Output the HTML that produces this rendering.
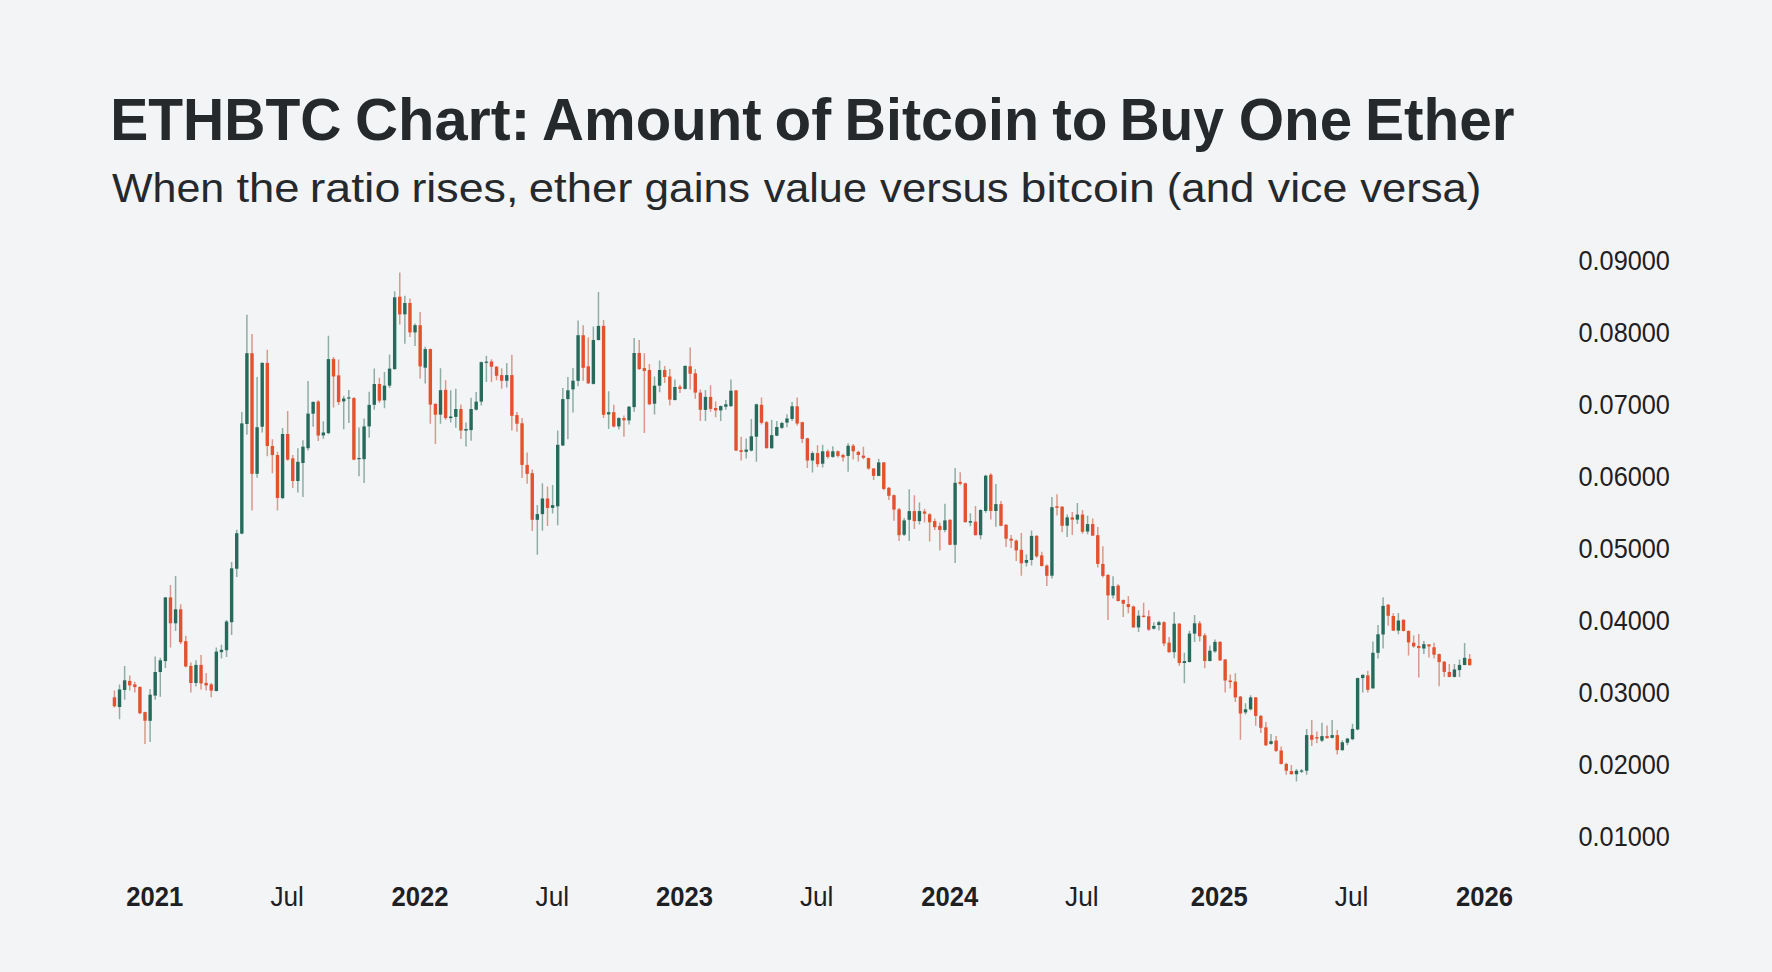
<!DOCTYPE html>
<html><head><meta charset="utf-8"><style>
html,body{margin:0;padding:0;background:#f3f4f6;}
body{width:1772px;height:972px;overflow:hidden;}
svg{display:block;}
text{font-family:"Liberation Sans",sans-serif;}
</style></head><body>
<svg width="1772" height="972" viewBox="0 0 1772 972">
<rect width="1772" height="972" fill="#f3f4f6"/>
<g font-size="58.5" font-weight="bold" fill="#25292c"><text x="110.3" y="140.3" textLength="231.1" lengthAdjust="spacingAndGlyphs">ETHBTC</text><text x="354.9" y="140.3" textLength="175.6" lengthAdjust="spacingAndGlyphs">Chart:</text><text x="542.1" y="140.3" textLength="219.5" lengthAdjust="spacingAndGlyphs">Amount</text><text x="774.6" y="140.3" textLength="56.7" lengthAdjust="spacingAndGlyphs">of</text><text x="844.5" y="140.3" textLength="194.5" lengthAdjust="spacingAndGlyphs">Bitcoin</text><text x="1052.2" y="140.3" textLength="55.2" lengthAdjust="spacingAndGlyphs">to</text><text x="1119.8" y="140.3" textLength="104.1" lengthAdjust="spacingAndGlyphs">Buy</text><text x="1238.7" y="140.3" textLength="113.4" lengthAdjust="spacingAndGlyphs">One</text><text x="1364.9" y="140.3" textLength="149.7" lengthAdjust="spacingAndGlyphs">Ether</text></g>
<g font-size="41" fill="#25292c"><text x="112.0" y="202.2" textLength="112.2" lengthAdjust="spacingAndGlyphs">When</text><text x="236.4" y="202.2" textLength="63.2" lengthAdjust="spacingAndGlyphs">the</text><text x="309.7" y="202.2" textLength="90.7" lengthAdjust="spacingAndGlyphs">ratio</text><text x="411.4" y="202.2" textLength="107.0" lengthAdjust="spacingAndGlyphs">rises,</text><text x="528.8" y="202.2" textLength="103.7" lengthAdjust="spacingAndGlyphs">ether</text><text x="644.6" y="202.2" textLength="105.4" lengthAdjust="spacingAndGlyphs">gains</text><text x="763.7" y="202.2" textLength="103.2" lengthAdjust="spacingAndGlyphs">value</text><text x="880.1" y="202.2" textLength="128.6" lengthAdjust="spacingAndGlyphs">versus</text><text x="1020.6" y="202.2" textLength="134.3" lengthAdjust="spacingAndGlyphs">bitcoin</text><text x="1166.8" y="202.2" textLength="87.6" lengthAdjust="spacingAndGlyphs">(and</text><text x="1267.8" y="202.2" textLength="79.6" lengthAdjust="spacingAndGlyphs">vice</text><text x="1360.2" y="202.2" textLength="121.2" lengthAdjust="spacingAndGlyphs">versa)</text></g>
<defs><filter id="bl" x="-5%" y="-5%" width="110%" height="110%"><feGaussianBlur stdDeviation="0.4"/></filter></defs><g filter="url(#bl)"><path d="M119.53 684.4V719.3M124.63 665.9V699.8M150.10 689.1V741.9M155.20 656.6V699.8M160.29 657.7V696.7M165.39 597.0V667.9M175.58 576.0V630.9M195.96 660.3V686.4M216.34 647.5V691.6M221.44 644.8V658.4M226.53 619.9V657.0M231.62 561.9V635.0M236.72 529.8V576.9M241.81 412.0V534.3M246.91 314.7V434.7M257.10 377.0V477.7M262.19 362.2V432.4M282.57 427.9V499.2M297.86 448.3V492.4M302.95 440.3V496.9M308.05 381.0V450.5M313.14 401.4V426.8M323.33 421.2V438.8M328.43 335.8V434.3M343.71 395.8V429.3M348.81 390.1V423.0M359.00 427.5V476.2M364.09 418.4V483.0M369.19 391.7V437.7M374.28 368.6V409.8M384.47 372.0V408.3M389.57 354.6V387.9M394.66 291.2V369.8M404.86 295.8V343.7M415.04 323.4V346.0M425.23 346.8V383.5M440.52 368.3V423.7M450.71 390.2V422.6M455.80 388.7V427.8M465.99 422.6V446.4M471.09 397.7V440.7M476.18 392.1V410.6M481.28 361.5V405.6M486.38 355.8V381.9M506.75 363.1V387.5M537.33 505.1V554.8M542.42 483.3V530.7M552.61 485.0V513.4M557.70 430.6V525.2M562.80 388.0V445.9M567.89 376.9V439.3M572.99 368.1V412.6M578.09 320.4V386.3M593.37 326.5V384.4M598.46 291.9V340.4M608.65 391.3V428.9M618.85 417.2V429.6M629.03 406.1V424.6M634.13 338.1V411.7M654.51 376.5V414.4M659.61 360.4V392.2M674.89 379.6V400.6M685.08 365.4V389.4M705.46 390.0V420.9M720.74 405.6V420.9M725.84 400.0V409.8M730.93 379.6V407.0M746.22 438.5V458.5M751.32 419.1V451.5M756.41 403.7V461.7M771.69 420.0V448.7M776.79 420.9V436.3M781.88 421.7V429.1M786.98 414.3V427.2M792.08 401.9V421.1M812.45 451.3V472.6M822.64 444.8V467.4M832.84 446.3V457.8M848.12 443.3V471.7M878.69 458.7V476.3M904.16 518.0V535.9M909.26 489.3V541.1M919.45 502.6V524.4M944.92 503.7V532.2M955.12 468.0V563.0M970.40 513.3V526.3M980.59 509.3V539.3M985.68 474.8V512.8M995.88 484.1V526.7M1026.44 554.4V566.5M1031.54 530.4V565.6M1051.92 497.0V578.5M1067.20 514.6V536.9M1077.39 503.0V523.9M1087.59 515.7V534.3M1113.06 576.3V598.5M1138.53 610.2V631.9M1153.82 622.2V629.6M1158.91 620.7V630.6M1174.20 612.0V658.3M1184.39 652.8V683.3M1189.48 630.7V662.4M1194.58 615.1V641.9M1209.87 645.6V661.6M1214.96 639.4V652.8M1245.53 703.2V714.5M1250.62 695.3V710.4M1271.00 734.0V744.7M1296.48 769.0V781.4M1301.58 769.0V773.1M1306.67 728.9V774.8M1321.95 722.7V741.9M1332.14 720.0V738.6M1342.34 740.2V750.9M1347.43 737.7V745.3M1352.53 723.7V740.2M1357.62 677.4V730.3M1362.71 674.4V692.5M1372.90 641.5V688.6M1378.00 625.1V658.4M1383.10 597.3V648.5M1398.38 613.1V634.3M1423.86 641.1V654.1M1454.42 664.0V677.5M1459.52 659.6V676.9M1464.62 643.0V665.2" stroke="#8fada5" stroke-width="1.5" stroke-opacity="1" fill="none"/><path d="M114.44 690.6V707.6M129.72 675.5V690.6M134.82 681.7V692.6M139.91 686.4V714.2M145.01 711.7V744.0M170.48 585.1V647.4M180.67 604.2V644.3M185.77 635.7V667.3M190.86 662.4V692.6M201.05 655.0V689.5M206.15 673.1V690.6M211.24 682.9V697.3M252.00 334.0V510.5M267.29 349.8V456.2M272.38 439.2V473.2M277.48 451.7V510.5M287.67 410.9V460.7M292.76 455.0V487.9M318.24 400.3V441.1M333.52 356.9V407.6M338.62 359.6V404.9M353.90 396.9V460.3M379.38 377.7V403.1M399.76 272.4V324.5M409.95 298.5V337.0M420.14 312.1V378.8M430.33 348.6V423.7M435.42 403.4V444.1M445.61 380.3V419.7M460.90 404.5V439.1M491.47 359.2V381.9M496.56 366.0V380.3M501.66 368.3V388.7M511.85 354.7V430.5M516.94 412.0V431.7M522.04 418.1V478.1M527.13 452.6V483.8M532.23 469.6V531.1M547.51 486.6V525.9M583.18 325.2V380.7M588.27 337.6V383.9M603.56 320.0V418.1M613.75 404.8V427.4M623.94 415.4V436.7M639.22 340.0V370.0M644.32 353.3V433.0M649.41 364.1V405.2M664.70 365.9V383.0M669.80 369.1V405.6M679.98 384.8V393.1M690.17 347.4V389.4M695.27 369.1V398.7M700.37 389.4V420.9M710.56 385.2V411.7M715.65 401.5V417.2M736.03 390.0V451.1M741.12 436.7V460.4M761.50 397.4V424.6M766.60 420.9V448.7M797.17 397.6V425.4M802.26 421.7V443.0M807.36 437.8V468.0M817.55 445.2V467.0M827.74 449.4V458.7M837.93 450.4V457.4M843.02 453.7V461.5M853.21 443.9V459.6M858.31 450.7V461.5M863.40 446.7V459.3M868.50 457.4V469.8M873.60 468.0V480.0M883.78 461.9V490.2M888.88 487.0V500.0M893.97 494.4V520.7M899.07 508.1V541.1M914.36 495.2V529.1M924.54 508.7V522.6M929.64 513.3V541.5M934.73 518.5V530.0M939.83 522.6V550.4M950.02 519.3V545.2M960.21 472.2V485.2M965.30 482.8V522.6M975.49 505.9V535.6M990.78 473.3V519.6M1000.97 501.1V526.3M1006.07 523.9V547.0M1011.16 535.0V548.0M1016.25 539.6V560.9M1021.35 533.1V575.7M1036.63 535.0V557.8M1041.73 551.7V566.5M1046.83 564.6V585.9M1057.01 494.3V515.6M1062.11 505.9V532.2M1072.30 511.9V535.0M1082.49 510.0V533.7M1092.68 518.5V536.1M1097.77 526.9V567.6M1102.87 546.3V577.4M1107.96 574.1V620.0M1118.15 584.3V601.5M1123.25 599.6V617.0M1128.35 595.9V613.3M1133.44 605.6V627.8M1143.63 602.8V617.6M1148.72 610.2V631.1M1164.01 621.3V646.3M1169.11 637.0V652.8M1179.30 623.1V665.7M1199.67 620.9V641.4M1204.77 633.2V668.2M1220.06 641.0V661.0M1225.15 658.9V692.5M1230.24 674.4V688.4M1235.34 673.3V702.1M1240.43 696.0V739.8M1255.72 697.0V725.8M1260.82 715.1V733.0M1265.91 722.1V746.0M1276.10 736.1V752.1M1281.19 746.4V764.5M1286.29 762.8V774.8M1291.38 764.9V774.8M1311.77 720.0V746.0M1316.86 731.6V743.3M1327.05 725.4V738.6M1337.24 729.9V754.6M1367.81 670.7V692.5M1388.19 604.1V625.7M1393.29 613.3V630.9M1403.47 619.3V631.6M1408.57 630.6V655.6M1413.66 635.6V647.7M1418.76 634.1V677.5M1428.95 644.2V657.5M1434.05 642.7V658.4M1439.14 653.5V686.2M1444.23 660.9V676.9M1449.33 664.0V677.3M1469.71 654.1V665.4" stroke="#d9998c" stroke-width="1.5" stroke-opacity="1" fill="none"/><g fill="#256b5c"><rect x="117.83" y="689.5" width="3.4" height="17.5"/><rect x="122.93" y="680.3" width="3.4" height="9.7"/><rect x="148.41" y="694.7" width="3.4" height="26.1"/><rect x="153.50" y="672.0" width="3.4" height="23.6"/><rect x="158.59" y="660.3" width="3.4" height="11.7"/><rect x="163.69" y="597.4" width="3.4" height="63.7"/><rect x="173.88" y="609.3" width="3.4" height="14.0"/><rect x="194.26" y="664.9" width="3.4" height="18.1"/><rect x="214.64" y="651.6" width="3.4" height="39.4"/><rect x="219.74" y="649.8" width="3.4" height="2.3"/><rect x="224.83" y="621.5" width="3.4" height="28.7"/><rect x="229.93" y="568.3" width="3.4" height="53.9"/><rect x="235.02" y="533.2" width="3.4" height="35.5"/><rect x="240.12" y="423.4" width="3.4" height="110.2"/><rect x="245.21" y="353.2" width="3.4" height="70.8"/><rect x="255.40" y="427.2" width="3.4" height="46.6"/><rect x="260.50" y="362.9" width="3.4" height="63.8"/><rect x="280.88" y="434.0" width="3.4" height="64.1"/><rect x="296.16" y="461.8" width="3.4" height="19.2"/><rect x="301.25" y="446.7" width="3.4" height="16.3"/><rect x="306.35" y="413.6" width="3.4" height="34.6"/><rect x="311.44" y="401.9" width="3.4" height="11.8"/><rect x="321.63" y="432.5" width="3.4" height="2.9"/><rect x="326.73" y="359.1" width="3.4" height="74.0"/><rect x="342.01" y="398.5" width="3.4" height="2.9"/><rect x="347.11" y="397.4" width="3.4" height="1.2"/><rect x="357.30" y="458.0" width="3.4" height="1.2"/><rect x="362.39" y="426.4" width="3.4" height="32.8"/><rect x="367.49" y="404.9" width="3.4" height="21.5"/><rect x="372.58" y="384.0" width="3.4" height="20.8"/><rect x="382.77" y="385.6" width="3.4" height="14.7"/><rect x="387.87" y="368.6" width="3.4" height="17.0"/><rect x="392.96" y="297.3" width="3.4" height="71.8"/><rect x="403.16" y="303.0" width="3.4" height="11.3"/><rect x="413.34" y="325.2" width="3.4" height="7.2"/><rect x="423.53" y="349.1" width="3.4" height="18.6"/><rect x="438.82" y="390.2" width="3.4" height="24.4"/><rect x="449.01" y="416.5" width="3.4" height="1.6"/><rect x="454.10" y="409.0" width="3.4" height="7.9"/><rect x="464.29" y="429.0" width="3.4" height="1.6"/><rect x="469.39" y="409.0" width="3.4" height="21.1"/><rect x="474.48" y="401.6" width="3.4" height="8.1"/><rect x="479.58" y="362.2" width="3.4" height="39.4"/><rect x="484.68" y="361.6" width="3.4" height="1.2"/><rect x="505.06" y="375.1" width="3.4" height="5.7"/><rect x="535.62" y="514.1" width="3.4" height="5.7"/><rect x="540.72" y="498.5" width="3.4" height="15.6"/><rect x="550.91" y="505.1" width="3.4" height="2.8"/><rect x="556.00" y="444.8" width="3.4" height="61.5"/><rect x="561.10" y="399.1" width="3.4" height="46.4"/><rect x="566.19" y="390.3" width="3.4" height="8.8"/><rect x="571.29" y="380.7" width="3.4" height="8.7"/><rect x="576.38" y="335.2" width="3.4" height="45.6"/><rect x="591.67" y="340.0" width="3.4" height="43.9"/><rect x="596.76" y="325.9" width="3.4" height="14.1"/><rect x="606.95" y="412.2" width="3.4" height="2.2"/><rect x="617.14" y="418.1" width="3.4" height="8.3"/><rect x="627.33" y="406.7" width="3.4" height="13.7"/><rect x="632.43" y="353.0" width="3.4" height="54.1"/><rect x="652.81" y="385.7" width="3.4" height="18.0"/><rect x="657.90" y="370.0" width="3.4" height="15.7"/><rect x="673.19" y="387.0" width="3.4" height="13.0"/><rect x="683.38" y="365.9" width="3.4" height="23.0"/><rect x="703.76" y="396.9" width="3.4" height="13.0"/><rect x="719.04" y="406.1" width="3.4" height="4.3"/><rect x="724.14" y="404.3" width="3.4" height="2.4"/><rect x="729.23" y="390.7" width="3.4" height="15.4"/><rect x="744.52" y="449.6" width="3.4" height="2.2"/><rect x="749.62" y="436.3" width="3.4" height="14.3"/><rect x="754.71" y="404.3" width="3.4" height="32.4"/><rect x="769.99" y="435.2" width="3.4" height="13.0"/><rect x="775.09" y="427.0" width="3.4" height="8.7"/><rect x="780.18" y="423.0" width="3.4" height="4.8"/><rect x="785.28" y="418.5" width="3.4" height="4.1"/><rect x="790.38" y="406.3" width="3.4" height="12.6"/><rect x="810.75" y="453.1" width="3.4" height="7.4"/><rect x="820.94" y="451.3" width="3.4" height="12.4"/><rect x="831.13" y="451.3" width="3.4" height="5.6"/><rect x="846.42" y="445.7" width="3.4" height="10.2"/><rect x="876.99" y="462.4" width="3.4" height="13.5"/><rect x="902.46" y="520.4" width="3.4" height="14.3"/><rect x="907.56" y="511.1" width="3.4" height="8.7"/><rect x="917.75" y="511.1" width="3.4" height="10.0"/><rect x="943.22" y="520.4" width="3.4" height="9.6"/><rect x="953.41" y="482.8" width="3.4" height="62.0"/><rect x="968.70" y="521.1" width="3.4" height="1.5"/><rect x="978.89" y="510.0" width="3.4" height="25.2"/><rect x="983.98" y="475.7" width="3.4" height="35.2"/><rect x="994.17" y="504.1" width="3.4" height="6.9"/><rect x="1024.74" y="560.0" width="3.4" height="2.8"/><rect x="1029.84" y="535.9" width="3.4" height="24.1"/><rect x="1050.22" y="507.2" width="3.4" height="68.5"/><rect x="1065.50" y="517.4" width="3.4" height="8.3"/><rect x="1075.69" y="514.6" width="3.4" height="5.0"/><rect x="1085.88" y="524.1" width="3.4" height="7.4"/><rect x="1111.36" y="586.1" width="3.4" height="9.3"/><rect x="1136.83" y="615.7" width="3.4" height="11.7"/><rect x="1152.12" y="625.9" width="3.4" height="2.8"/><rect x="1157.21" y="622.2" width="3.4" height="2.8"/><rect x="1172.50" y="623.7" width="3.4" height="28.5"/><rect x="1182.69" y="661.1" width="3.4" height="1.9"/><rect x="1187.78" y="633.6" width="3.4" height="28.4"/><rect x="1192.88" y="623.3" width="3.4" height="10.3"/><rect x="1208.16" y="650.7" width="3.4" height="10.3"/><rect x="1213.26" y="641.9" width="3.4" height="9.5"/><rect x="1243.83" y="709.3" width="3.4" height="3.1"/><rect x="1248.92" y="697.4" width="3.4" height="11.9"/><rect x="1269.30" y="741.2" width="3.4" height="2.7"/><rect x="1294.78" y="770.7" width="3.4" height="3.5"/><rect x="1299.88" y="770.5" width="3.4" height="1.2"/><rect x="1304.97" y="735.1" width="3.4" height="35.6"/><rect x="1320.25" y="736.1" width="3.4" height="4.5"/><rect x="1330.44" y="735.1" width="3.4" height="2.7"/><rect x="1340.63" y="742.3" width="3.4" height="7.8"/><rect x="1345.73" y="738.6" width="3.4" height="4.1"/><rect x="1350.83" y="728.9" width="3.4" height="10.3"/><rect x="1355.92" y="678.1" width="3.4" height="51.4"/><rect x="1361.01" y="674.8" width="3.4" height="3.3"/><rect x="1371.20" y="652.8" width="3.4" height="35.6"/><rect x="1376.30" y="634.3" width="3.4" height="18.5"/><rect x="1381.39" y="605.9" width="3.4" height="28.6"/><rect x="1396.68" y="620.5" width="3.4" height="10.1"/><rect x="1422.15" y="644.2" width="3.4" height="4.3"/><rect x="1452.72" y="669.5" width="3.4" height="7.4"/><rect x="1457.82" y="664.9" width="3.4" height="5.2"/><rect x="1462.91" y="657.8" width="3.4" height="7.2"/></g><g fill="#e3512d"><rect x="112.74" y="697.3" width="3.4" height="9.0"/><rect x="128.03" y="680.9" width="3.4" height="4.5"/><rect x="133.12" y="684.4" width="3.4" height="2.7"/><rect x="138.22" y="686.9" width="3.4" height="26.3"/><rect x="143.31" y="712.1" width="3.4" height="8.6"/><rect x="168.78" y="597.4" width="3.4" height="25.9"/><rect x="178.97" y="609.3" width="3.4" height="32.9"/><rect x="184.07" y="641.2" width="3.4" height="25.3"/><rect x="189.16" y="665.9" width="3.4" height="17.1"/><rect x="199.35" y="664.9" width="3.4" height="18.5"/><rect x="204.45" y="682.9" width="3.4" height="2.5"/><rect x="209.54" y="684.4" width="3.4" height="6.2"/><rect x="250.31" y="353.2" width="3.4" height="120.6"/><rect x="265.59" y="362.9" width="3.4" height="83.1"/><rect x="270.69" y="446.0" width="3.4" height="9.1"/><rect x="275.78" y="455.0" width="3.4" height="43.0"/><rect x="285.97" y="434.0" width="3.4" height="25.6"/><rect x="291.06" y="458.4" width="3.4" height="22.6"/><rect x="316.54" y="401.5" width="3.4" height="34.0"/><rect x="331.82" y="359.1" width="3.4" height="17.4"/><rect x="336.92" y="375.4" width="3.4" height="26.7"/><rect x="352.20" y="398.1" width="3.4" height="61.6"/><rect x="377.68" y="384.0" width="3.4" height="16.7"/><rect x="398.06" y="296.7" width="3.4" height="17.7"/><rect x="408.25" y="303.0" width="3.4" height="29.4"/><rect x="418.44" y="325.2" width="3.4" height="41.2"/><rect x="428.63" y="349.1" width="3.4" height="55.5"/><rect x="433.72" y="403.8" width="3.4" height="10.9"/><rect x="443.91" y="389.8" width="3.4" height="28.3"/><rect x="459.20" y="409.0" width="3.4" height="21.5"/><rect x="489.77" y="361.5" width="3.4" height="5.2"/><rect x="494.87" y="366.7" width="3.4" height="9.1"/><rect x="499.96" y="375.1" width="3.4" height="5.7"/><rect x="510.15" y="375.1" width="3.4" height="40.7"/><rect x="515.24" y="415.1" width="3.4" height="8.6"/><rect x="520.34" y="423.3" width="3.4" height="41.6"/><rect x="525.43" y="464.9" width="3.4" height="9.0"/><rect x="530.53" y="473.2" width="3.4" height="46.6"/><rect x="545.81" y="498.5" width="3.4" height="9.5"/><rect x="581.48" y="335.2" width="3.4" height="32.6"/><rect x="586.57" y="366.3" width="3.4" height="17.0"/><rect x="601.86" y="325.9" width="3.4" height="88.9"/><rect x="612.05" y="412.2" width="3.4" height="14.3"/><rect x="622.24" y="418.1" width="3.4" height="2.2"/><rect x="637.52" y="353.0" width="3.4" height="16.1"/><rect x="642.62" y="368.1" width="3.4" height="2.8"/><rect x="647.71" y="370.0" width="3.4" height="34.3"/><rect x="663.00" y="370.0" width="3.4" height="7.0"/><rect x="668.10" y="376.5" width="3.4" height="23.1"/><rect x="678.28" y="386.7" width="3.4" height="2.2"/><rect x="688.47" y="366.3" width="3.4" height="7.4"/><rect x="693.57" y="373.3" width="3.4" height="19.3"/><rect x="698.66" y="392.6" width="3.4" height="17.2"/><rect x="708.86" y="396.9" width="3.4" height="12.0"/><rect x="713.95" y="408.0" width="3.4" height="2.4"/><rect x="734.33" y="390.4" width="3.4" height="60.2"/><rect x="739.42" y="450.2" width="3.4" height="1.7"/><rect x="759.80" y="404.8" width="3.4" height="18.0"/><rect x="764.90" y="422.2" width="3.4" height="25.9"/><rect x="795.47" y="406.3" width="3.4" height="17.2"/><rect x="800.56" y="422.2" width="3.4" height="16.7"/><rect x="805.66" y="438.3" width="3.4" height="22.2"/><rect x="815.85" y="453.1" width="3.4" height="11.1"/><rect x="826.04" y="451.3" width="3.4" height="5.6"/><rect x="836.23" y="451.3" width="3.4" height="4.6"/><rect x="841.32" y="455.0" width="3.4" height="2.4"/><rect x="851.51" y="445.7" width="3.4" height="5.6"/><rect x="856.61" y="451.9" width="3.4" height="3.1"/><rect x="861.70" y="455.6" width="3.4" height="2.2"/><rect x="866.80" y="458.1" width="3.4" height="10.4"/><rect x="871.89" y="468.5" width="3.4" height="7.4"/><rect x="882.08" y="462.4" width="3.4" height="26.5"/><rect x="887.18" y="487.8" width="3.4" height="8.0"/><rect x="892.27" y="495.2" width="3.4" height="14.4"/><rect x="897.37" y="509.3" width="3.4" height="25.9"/><rect x="912.65" y="511.1" width="3.4" height="10.0"/><rect x="922.84" y="511.5" width="3.4" height="2.2"/><rect x="927.94" y="514.3" width="3.4" height="8.0"/><rect x="933.03" y="521.1" width="3.4" height="6.1"/><rect x="938.13" y="525.9" width="3.4" height="4.1"/><rect x="948.32" y="519.8" width="3.4" height="25.0"/><rect x="958.51" y="481.9" width="3.4" height="1.9"/><rect x="963.60" y="483.3" width="3.4" height="38.9"/><rect x="973.79" y="521.7" width="3.4" height="13.5"/><rect x="989.08" y="474.8" width="3.4" height="36.1"/><rect x="999.27" y="504.1" width="3.4" height="21.7"/><rect x="1004.37" y="524.8" width="3.4" height="13.9"/><rect x="1009.46" y="538.7" width="3.4" height="1.9"/><rect x="1014.55" y="540.6" width="3.4" height="9.8"/><rect x="1019.65" y="549.8" width="3.4" height="13.5"/><rect x="1034.93" y="535.9" width="3.4" height="20.4"/><rect x="1040.03" y="555.4" width="3.4" height="10.6"/><rect x="1045.12" y="565.6" width="3.4" height="10.2"/><rect x="1055.31" y="506.3" width="3.4" height="1.5"/><rect x="1060.41" y="506.7" width="3.4" height="19.1"/><rect x="1070.60" y="517.4" width="3.4" height="2.2"/><rect x="1080.79" y="514.6" width="3.4" height="17.2"/><rect x="1090.98" y="524.1" width="3.4" height="11.5"/><rect x="1096.07" y="535.2" width="3.4" height="28.7"/><rect x="1101.17" y="563.9" width="3.4" height="12.0"/><rect x="1106.26" y="575.0" width="3.4" height="20.4"/><rect x="1116.45" y="585.6" width="3.4" height="15.4"/><rect x="1121.55" y="600.0" width="3.4" height="3.7"/><rect x="1126.64" y="604.1" width="3.4" height="3.0"/><rect x="1131.74" y="606.5" width="3.4" height="20.9"/><rect x="1141.93" y="615.7" width="3.4" height="1.3"/><rect x="1147.02" y="616.3" width="3.4" height="13.3"/><rect x="1162.31" y="622.2" width="3.4" height="21.3"/><rect x="1167.40" y="642.6" width="3.4" height="9.6"/><rect x="1177.60" y="623.7" width="3.4" height="39.3"/><rect x="1197.97" y="623.3" width="3.4" height="13.0"/><rect x="1203.07" y="635.3" width="3.4" height="25.7"/><rect x="1218.36" y="641.9" width="3.4" height="18.5"/><rect x="1223.45" y="659.5" width="3.4" height="21.0"/><rect x="1228.54" y="680.5" width="3.4" height="1.6"/><rect x="1233.64" y="681.6" width="3.4" height="15.8"/><rect x="1238.73" y="696.6" width="3.4" height="16.9"/><rect x="1254.02" y="697.4" width="3.4" height="18.5"/><rect x="1259.12" y="715.9" width="3.4" height="11.9"/><rect x="1264.21" y="727.4" width="3.4" height="17.9"/><rect x="1274.40" y="740.6" width="3.4" height="10.3"/><rect x="1279.49" y="750.5" width="3.4" height="13.4"/><rect x="1284.59" y="763.9" width="3.4" height="6.8"/><rect x="1289.68" y="771.1" width="3.4" height="3.1"/><rect x="1310.07" y="735.1" width="3.4" height="4.7"/><rect x="1315.16" y="737.1" width="3.4" height="1.4"/><rect x="1325.35" y="736.1" width="3.4" height="2.1"/><rect x="1335.54" y="735.1" width="3.4" height="15.0"/><rect x="1366.11" y="675.4" width="3.4" height="14.4"/><rect x="1386.49" y="604.7" width="3.4" height="11.1"/><rect x="1391.59" y="616.0" width="3.4" height="14.6"/><rect x="1401.77" y="619.8" width="3.4" height="11.1"/><rect x="1406.87" y="630.9" width="3.4" height="11.5"/><rect x="1411.96" y="642.7" width="3.4" height="3.7"/><rect x="1417.06" y="646.0" width="3.4" height="2.1"/><rect x="1427.25" y="644.4" width="3.4" height="2.0"/><rect x="1432.35" y="647.3" width="3.4" height="7.4"/><rect x="1437.44" y="654.1" width="3.4" height="8.0"/><rect x="1442.53" y="661.7" width="3.4" height="10.2"/><rect x="1447.63" y="672.0" width="3.4" height="4.9"/><rect x="1468.01" y="658.8" width="3.4" height="6.4"/></g></g>
<g font-size="26.8" fill="#1e2023"><text x="1578.5" y="270.3" textLength="91.4" lengthAdjust="spacingAndGlyphs">0.09000</text><text x="1578.5" y="342.2" textLength="91.4" lengthAdjust="spacingAndGlyphs">0.08000</text><text x="1578.5" y="414.1" textLength="91.4" lengthAdjust="spacingAndGlyphs">0.07000</text><text x="1578.5" y="486.0" textLength="91.4" lengthAdjust="spacingAndGlyphs">0.06000</text><text x="1578.5" y="557.9" textLength="91.4" lengthAdjust="spacingAndGlyphs">0.05000</text><text x="1578.5" y="629.9" textLength="91.4" lengthAdjust="spacingAndGlyphs">0.04000</text><text x="1578.5" y="701.8" textLength="91.4" lengthAdjust="spacingAndGlyphs">0.03000</text><text x="1578.5" y="773.7" textLength="91.4" lengthAdjust="spacingAndGlyphs">0.02000</text><text x="1578.5" y="845.6" textLength="91.4" lengthAdjust="spacingAndGlyphs">0.01000</text></g>
<g font-size="27.3" fill="#1e2023"><text x="154.7" y="906" text-anchor="middle" font-weight="bold" textLength="57" lengthAdjust="spacingAndGlyphs">2021</text><text x="287.2" y="906" text-anchor="middle" textLength="33.5" lengthAdjust="spacingAndGlyphs">Jul</text><text x="419.9" y="906" text-anchor="middle" font-weight="bold" textLength="57" lengthAdjust="spacingAndGlyphs">2022</text><text x="552.3" y="906" text-anchor="middle" textLength="33.5" lengthAdjust="spacingAndGlyphs">Jul</text><text x="684.6" y="906" text-anchor="middle" font-weight="bold" textLength="57" lengthAdjust="spacingAndGlyphs">2023</text><text x="816.7" y="906" text-anchor="middle" textLength="33.5" lengthAdjust="spacingAndGlyphs">Jul</text><text x="949.8" y="906" text-anchor="middle" font-weight="bold" textLength="57" lengthAdjust="spacingAndGlyphs">2024</text><text x="1081.8" y="906" text-anchor="middle" textLength="33.5" lengthAdjust="spacingAndGlyphs">Jul</text><text x="1219.3" y="906" text-anchor="middle" font-weight="bold" textLength="57" lengthAdjust="spacingAndGlyphs">2025</text><text x="1351.6" y="906" text-anchor="middle" textLength="33.5" lengthAdjust="spacingAndGlyphs">Jul</text><text x="1484.5" y="906" text-anchor="middle" font-weight="bold" textLength="57" lengthAdjust="spacingAndGlyphs">2026</text></g>
</svg>
</body></html>
